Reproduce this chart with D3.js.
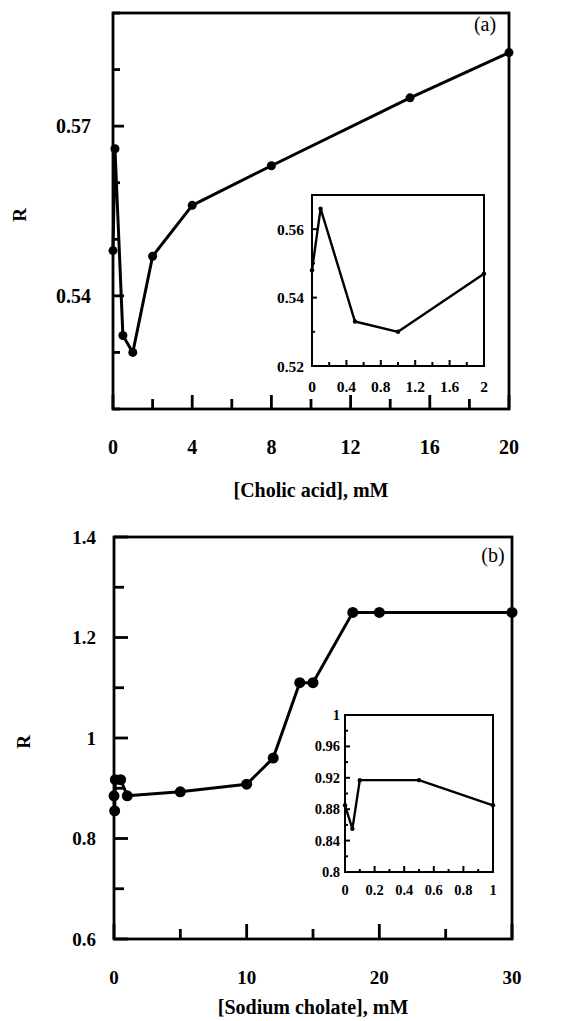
<!DOCTYPE html>
<html>
<head>
<meta charset="utf-8">
<script src="https://cdn.jsdelivr.net/npm/d3@7"></script>
<style>
  body { margin: 0; background: #fff; }
  svg text { font-family: "Liberation Serif", "Times New Roman", serif; font-weight: bold; fill: #000; }
</style>
</head>
<body>
<div id="chart"></div>
<script>
// panel (a): cholic acid
const cholicX = [0, 0.1, 0.5, 1, 2, 4, 8, 15, 20];
const cholicR = [0.548, 0.566, 0.533, 0.530, 0.547, 0.556, 0.563, 0.575, 0.583];
const cholicInsetX = [0, 0.1, 0.5, 1, 2];
const cholicInsetR = [0.548, 0.566, 0.533, 0.530, 0.547];
const cholicXTicks = [0, 4, 8, 12, 16, 20];
const cholicYTicks = [0.54, 0.57];
const cholicInsetXTicks = [0, 0.4, 0.8, 1.2, 1.6, 2];
const cholicInsetYTicks = [0.52, 0.54, 0.56];

// panel (b): sodium cholate
const cholateX = [0, 0.05, 0.1, 0.5, 1, 5, 10, 12, 14, 15, 18, 20, 30];
const cholateR = [0.885, 0.855, 0.917, 0.917, 0.885, 0.893, 0.908, 0.960, 1.110, 1.110, 1.250, 1.250, 1.250];
const cholateInsetX = [0, 0.05, 0.1, 0.5, 1];
const cholateInsetR = [0.885, 0.855, 0.917, 0.917, 0.885];
const cholateXTicks = [0, 10, 20, 30];
const cholateYTicks = [0.6, 0.8, 1, 1.2, 1.4];
const cholateInsetXTicks = [0, 0.2, 0.4, 0.6, 0.8, 1];
const cholateInsetYTicks = [0.8, 0.84, 0.88, 0.92, 0.96, 1];

const svg = d3.select('#chart').append('svg').attr('width', 568).attr('height', 1021);

const fmt = d => String(+d.toFixed(3));

function drawPlot(opts) {
    const g = svg.append('g');
    const x = d3.scaleLinear().domain(opts.xDomain).range([opts.left, opts.right]);
    const y = d3.scaleLinear().domain(opts.yDomain).range([opts.bottom, opts.top]);

    // minor + major ticks (drawn inward)
    const xs = d3.range(opts.xDomain[0], opts.xDomain[1] + 1e-9, opts.xMinor);
    const ys = d3.range(opts.yDomain[0], opts.yDomain[1] + 1e-9, opts.yMinor);
    const isMajor = (v, list) => list.some(t => Math.abs(t - v) < 1e-6);

    g.selectAll('.xt').data(xs).enter().append('line')
        .attr('x1', d => x(d)).attr('x2', d => x(d))
        .attr('y1', opts.bottom)
        .attr('y2', d => opts.bottom - (isMajor(d, opts.xTicks) ? opts.xMajorLen : opts.xMinorLen))
        .attr('stroke', '#000').attr('stroke-width', opts.tickW);
    g.selectAll('.yt').data(ys).enter().append('line')
        .attr('y1', d => y(d)).attr('y2', d => y(d))
        .attr('x1', opts.left)
        .attr('x2', d => opts.left + (isMajor(d, opts.yTicks) ? opts.yMajorLen : opts.yMinorLen))
        .attr('stroke', '#000').attr('stroke-width', opts.tickW);

    g.append('rect')
        .attr('x', opts.left).attr('y', opts.top)
        .attr('width', opts.right - opts.left).attr('height', opts.bottom - opts.top)
        .attr('fill', 'none').attr('stroke', '#000').attr('stroke-width', opts.frameW);

    g.selectAll('.xl').data(opts.xTicks).enter().append('text')
        .attr('x', d => x(d)).attr('y', opts.bottom + opts.xLabelGap)
        .attr('text-anchor', 'middle').attr('dominant-baseline', 'central')
        .attr('font-size', opts.fontSize).text(fmt);
    g.selectAll('.yl').data(opts.yTicks).enter().append('text')
        .attr('x', opts.left - opts.yLabelGap).attr('y', d => y(d))
        .attr('text-anchor', 'end').attr('dominant-baseline', 'central')
        .attr('font-size', opts.fontSize).text(fmt);

    const pts = opts.xs.map((v, i) => [v, opts.ys[i]]);
    g.append('path')
        .datum(pts)
        .attr('fill', 'none').attr('stroke', '#000')
        .attr('stroke-width', opts.lineW).attr('stroke-linejoin', 'round')
        .attr('d', d3.line().x(d => x(d[0])).y(d => y(d[1])));
    g.selectAll('.dot').data(pts).enter().append('circle')
        .attr('cx', d => x(d[0])).attr('cy', d => y(d[1]))
        .attr('r', opts.dotR).attr('fill', '#000');
    return g;
}

// ---- panel (a)
drawPlot({
    left: 113, right: 509, top: 13, bottom: 409,
    xDomain: [0, 20], yDomain: [0.52, 0.59],
    xMinor: 2, yMinor: 0.01, xTicks: cholicXTicks, yTicks: cholicYTicks,
    xMajorLen: 14, xMinorLen: 10, yMajorLen: 11, yMinorLen: 7,
    xLabelGap: 38, yLabelGap: 22, fontSize: 20,
    tickW: 2.8, frameW: 2.8, lineW: 3, dotR: 4.5,
    xs: cholicX, ys: cholicR
});
drawPlot({
    left: 312, right: 484, top: 195, bottom: 366,
    xDomain: [0, 2], yDomain: [0.52, 0.57],
    xMinor: 0.2, yMinor: 0.01, xTicks: cholicInsetXTicks, yTicks: cholicInsetYTicks,
    xMajorLen: 6, xMinorLen: 4, yMajorLen: 5, yMinorLen: 3,
    xLabelGap: 20, yLabelGap: 8, fontSize: 15.5,
    tickW: 2, frameW: 2, lineW: 2.4, dotR: 2.2,
    xs: cholicInsetX, ys: cholicInsetR
});
svg.append('text').attr('x', 485).attr('y', 24)
    .attr('text-anchor', 'middle').attr('dominant-baseline', 'central')
    .attr('font-size', 20).style('font-weight', 'normal').text('(a)');
svg.append('text').attr('x', 311).attr('y', 490)
    .attr('text-anchor', 'middle').attr('dominant-baseline', 'central')
    .attr('font-size', 20).text('[Cholic acid], mM');
svg.append('text').attr('transform', 'translate(19,215) rotate(-90)')
    .attr('text-anchor', 'middle').attr('dominant-baseline', 'central')
    .attr('font-size', 19).text('R');

// ---- panel (b)
drawPlot({
    left: 114, right: 512, top: 537, bottom: 939,
    xDomain: [0, 30], yDomain: [0.6, 1.4],
    xMinor: 5, yMinor: 0.1, xTicks: cholateXTicks, yTicks: cholateYTicks,
    xMajorLen: 15, xMinorLen: 10, yMajorLen: 14, yMinorLen: 10,
    xLabelGap: 38, yLabelGap: 18, fontSize: 19,
    tickW: 2.8, frameW: 2.8, lineW: 3, dotR: 5.5,
    xs: cholateX, ys: cholateR
});
drawPlot({
    left: 345, right: 493, top: 715, bottom: 872,
    xDomain: [0, 1], yDomain: [0.8, 1.0],
    xMinor: 0.1, yMinor: 0.02, xTicks: cholateInsetXTicks, yTicks: cholateInsetYTicks,
    xMajorLen: 6, xMinorLen: 3, yMajorLen: 5, yMinorLen: 3,
    xLabelGap: 18, yLabelGap: 5, fontSize: 14.5,
    tickW: 2, frameW: 2, lineW: 2.4, dotR: 2.2,
    xs: cholateInsetX, ys: cholateInsetR
});
svg.append('text').attr('x', 493).attr('y', 555)
    .attr('text-anchor', 'middle').attr('dominant-baseline', 'central')
    .attr('font-size', 20).style('font-weight', 'normal').text('(b)');
svg.append('text').attr('x', 313).attr('y', 1007)
    .attr('text-anchor', 'middle').attr('dominant-baseline', 'central')
    .attr('font-size', 20).text('[Sodium cholate], mM');
svg.append('text').attr('transform', 'translate(23,742) rotate(-90)')
    .attr('text-anchor', 'middle').attr('dominant-baseline', 'central')
    .attr('font-size', 19).text('R');
</script>
</body>
</html>
